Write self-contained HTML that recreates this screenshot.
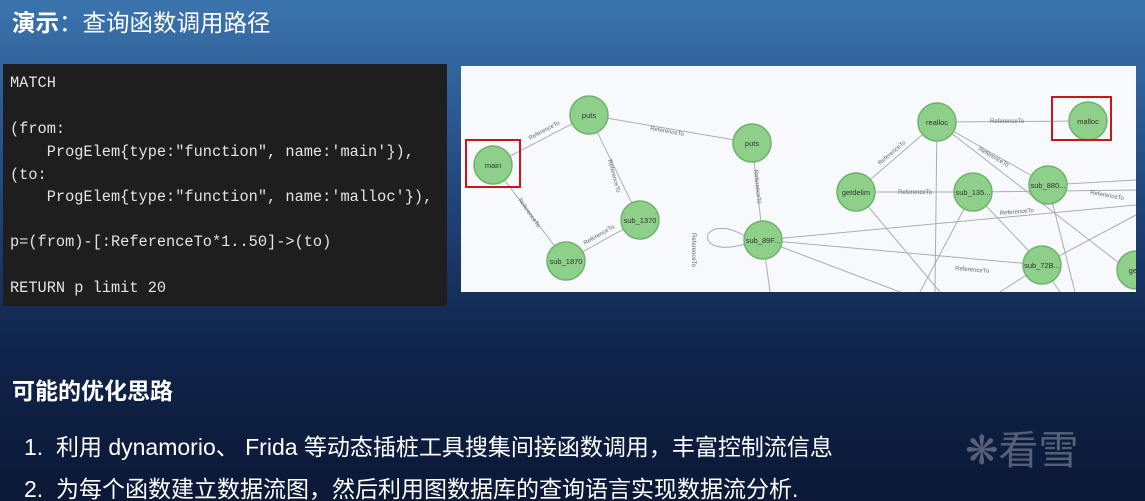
<!DOCTYPE html>
<html style="background:#0b1836"><head><meta charset="utf-8"><style>
*{margin:0;padding:0;box-sizing:border-box}
html,body{width:1145px;height:501px;overflow:hidden}
body{position:relative;font-family:"Liberation Sans","Noto Sans CJK SC",sans-serif;
background:linear-gradient(180deg,#3b74ad 0%,#2f5f98 18%,#1d3f72 45%,#10244a 70%,#0b1836 100%);}
.t{position:absolute;color:#fff;white-space:nowrap}
#code{position:absolute;left:3px;top:64px;width:444px;height:242px;background:#1e1e1e;color:#e4e4e4;
font-family:"Liberation Mono","DejaVu Sans Mono",monospace;font-size:15.3px;}
#code div{position:absolute;left:7px;white-space:pre}
#graph{position:absolute;left:461px;top:66px;width:675px;height:226px;background:#f7f9fc;overflow:hidden}
</style></head><body>
<div class="t" style="left:12px;top:4px;font-size:23.5px;"><b>演示</b>：查询函数调用路径</div>
<div id="code">
<div style="top:10px">MATCH</div>
<div style="top:56px">(from:</div>
<div style="top:79px">    ProgElem{type:"function", name:'main'}),</div>
<div style="top:102px">(to:</div>
<div style="top:124px">    ProgElem{type:"function", name:'malloc'}),</div>
<div style="top:169px">p=(from)-[:ReferenceTo*1..50]->(to)</div>
<div style="top:215px">RETURN p limit 20</div>
</div>
<div id="graph">
<svg width="675" height="226" viewBox="461 66 675 226" font-family="Liberation Sans,sans-serif">
<g stroke="#a9adb3" stroke-width="1" fill="none">
<line x1="493" y1="165" x2="589" y2="115"/><line x1="589" y1="115" x2="752" y2="143"/>
<line x1="493" y1="165" x2="566" y2="261"/><line x1="566" y1="261" x2="640" y2="220"/>
<line x1="640" y1="220" x2="589" y2="115"/><line x1="752" y1="143" x2="763" y2="240"/>
<line x1="763" y1="240" x2="770" y2="292"/>
<path d="M745 236 C700 210,690 260,745 244"/>
<line x1="937" y1="122" x2="1088" y2="121"/><line x1="856" y1="192" x2="937" y2="122"/>
<line x1="973" y1="192" x2="856" y2="192"/><line x1="1048" y1="185" x2="937" y2="122"/>
<line x1="1136" y1="190" x2="973" y2="192"/><line x1="1136" y1="205" x2="763" y2="240"/>
<line x1="1042" y1="265" x2="763" y2="240"/><line x1="1042" y1="265" x2="973" y2="192"/>
<line x1="1136" y1="215" x2="1042" y2="265"/><line x1="1128" y1="270" x2="937" y2="122"/>
<line x1="935" y1="292" x2="937" y2="122"/><line x1="920" y1="292" x2="973" y2="192"/>
<line x1="900" y1="292" x2="763" y2="240"/><line x1="940" y1="292" x2="856" y2="192"/>
<line x1="1048" y1="185" x2="1136" y2="180"/><line x1="1048" y1="185" x2="1075" y2="292"/>
<line x1="1042" y1="265" x2="1060" y2="292"/><line x1="1000" y1="292" x2="1042" y2="265"/>
</g>
<g font-size="6" fill="#666">
<text x="530" y="140" transform="rotate(-28 530 140)">ReferenceTo</text>
<text x="650" y="130" transform="rotate(10 650 130)">ReferenceTo</text>
<text x="518" y="200" transform="rotate(55 518 200)">ReferenceTo</text>
<text x="585" y="245" transform="rotate(-30 585 245)">ReferenceTo</text>
<text x="608" y="160" transform="rotate(75 608 160)">ReferenceTo</text>
<text x="754" y="170" transform="rotate(84 754 170)">ReferenceTo</text>
<text x="990" y="123">ReferenceTo</text>
<text x="880" y="165" transform="rotate(-40 880 165)">ReferenceTo</text>
<text x="898" y="194">ReferenceTo</text>
<text x="978" y="150" transform="rotate(30 978 150)">ReferenceTo</text>
<text x="1090" y="194" transform="rotate(10 1090 194)">ReferenceTo</text>
<text x="955" y="270" transform="rotate(5 955 270)">ReferenceTo</text>
<text x="1000" y="215" transform="rotate(-5 1000 215)">ReferenceTo</text>
<text x="692" y="233" transform="rotate(90 692 233)">ReferenceTo</text>
</g>
<g fill="#8ecf8a" stroke="#6eb36b" stroke-width="1.5">
<circle cx="493" cy="165" r="19"/><circle cx="589" cy="115" r="19"/><circle cx="752" cy="143" r="19"/>
<circle cx="640" cy="220" r="19"/><circle cx="566" cy="261" r="19"/><circle cx="763" cy="240" r="19"/>
<circle cx="937" cy="122" r="19"/><circle cx="1088" cy="121" r="19"/><circle cx="856" cy="192" r="19"/>
<circle cx="973" cy="192" r="19"/><circle cx="1048" cy="185" r="19"/><circle cx="1042" cy="265" r="19"/>
<circle cx="1136" cy="270" r="19"/>
</g>
<g font-size="7.5" fill="#333" text-anchor="middle">
<text x="493" y="168">main</text><text x="589" y="118">puts</text><text x="752" y="146">puts</text>
<text x="640" y="223">sub_1370</text><text x="566" y="264">sub_1870</text><text x="763" y="243">sub_89F...</text>
<text x="937" y="125">realloc</text><text x="1088" y="124">malloc</text><text x="856" y="195">getdelim</text>
<text x="973" y="195">sub_135...</text><text x="1048" y="188">sub_880...</text><text x="1042" y="268">sub_72B...</text>
<text x="1134" y="273">get</text>
</g>
<rect x="466" y="140" width="54" height="47" fill="none" stroke="#c8161d" stroke-width="2"/>
<rect x="1052" y="97" width="59" height="43" fill="none" stroke="#c8161d" stroke-width="2"/>
</svg>
</div>
<div class="t" style="left:12px;top:372px;font-size:23px;font-weight:bold;">可能的优化思路</div>
<div class="t" style="left:24px;top:428px;font-size:23px;">1.&nbsp; 利用 dynamorio、 Frida 等动态插桩工具搜集间接函数调用，丰富控制流信息</div>
<div class="t" style="left:24px;top:470px;font-size:23px;">2.&nbsp; 为每个函数建立数据流图，然后利用图数据库的查询语言实现数据流分析.</div>
<div class="t" style="left:965px;top:418px;font-size:40px;color:rgba(255,255,255,0.3);">❋看雪</div>
</body></html>
